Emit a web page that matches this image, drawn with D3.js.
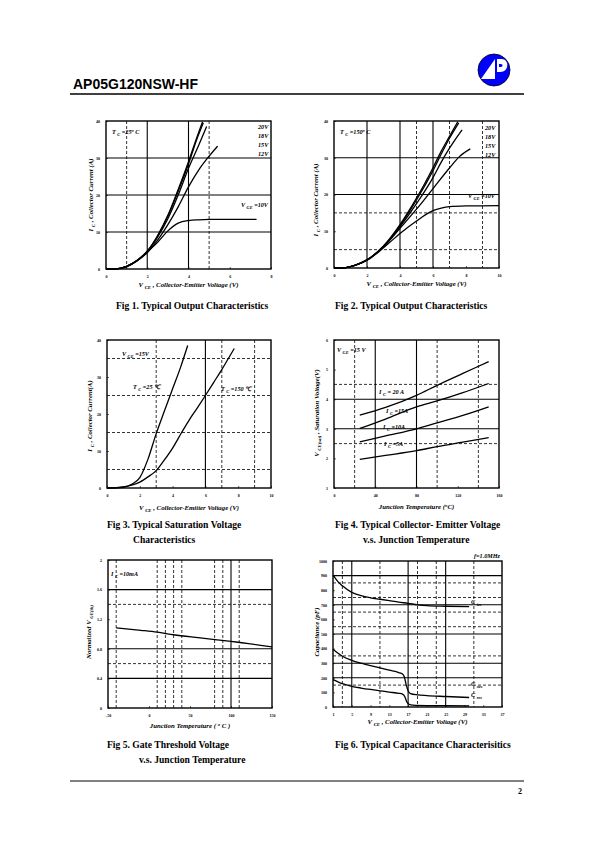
<!DOCTYPE html>
<html><head><meta charset="utf-8">
<script src="https://cdn.jsdelivr.net/npm/d3@7"></script>
<style>body{margin:0;background:#fff}svg{display:block}</style>
</head><body>
<script>
// ---------------- DATA ----------------
// Fig 1: Tc=25C output characteristics [Vce (V), Ic (A)]
const fig1XTicks = [0, 2, 4, 6, 8];
const fig1YTicks = [0, 10, 20, 30, 40];
const fig1_20V = [[0,0],[0.5,0.05],[1,0.7],[1.5,2.3],[2,4.8],[2.5,9],[3,14.5],[3.5,21.5],[4,29],[4.4,35.5],[4.68,39.8]];
const fig1_18V = [[0,0],[0.5,0.05],[1,0.7],[1.5,2.3],[2,4.8],[2.5,8.9],[3,14.3],[3.5,21],[4,28.4],[4.4,35],[4.72,39.5]];
const fig1_15V = [[0,0],[0.5,0.05],[1,0.7],[1.5,2.3],[2,4.7],[2.5,8.6],[3,13.6],[3.5,20],[4,27.2],[4.5,33.5],[4.88,38.5]];
const fig1_12V = [[0,0],[0.5,0.05],[1,0.7],[1.5,2.2],[2,4.4],[2.5,7.8],[3,12],[3.5,16.8],[4,22.2],[4.5,26.8],[5,30.5],[5.41,33.2]];
const fig1_10V = [[0,0],[0.5,0.05],[1,0.6],[1.5,2.2],[2,4.6],[2.5,7.2],[3,10.3],[3.5,12.4],[4,13.1],[4.5,13.3],[5,13.4],[6,13.4],[7.3,13.4]];

// Fig 2: Tc=150C output characteristics
const fig2XTicks = [0, 2, 4, 6, 8, 10];
const fig2YTicks = [0, 10, 20, 30, 40];
const fig2_20V = [[0,0],[0.5,0.05],[1,0.4],[1.5,1.1],[2,2.2],[3,6],[4,11.8],[5,19],[6,27.3],[6.5,31.8],[7,35.8],[7.5,39.8]];
const fig2_18V = [[0,0],[0.5,0.05],[1,0.4],[1.5,1.1],[2,2.2],[3,5.9],[4,11.5],[5,18.5],[6,26.5],[6.5,31],[7,35.3],[7.56,39.5]];
const fig2_15V = [[0,0],[0.5,0.05],[1,0.4],[1.5,1.1],[2,2.2],[3,5.8],[4,11.2],[5,17.5],[6,24.6],[6.5,28.8],[7,32.6],[7.76,37.6]];
const fig2_12V = [[0,0],[0.5,0.05],[1,0.4],[1.5,1.1],[2,2.2],[3,5.7],[4,10.8],[5,16],[6,21.6],[7,27.2],[7.6,30.3],[8.26,32.4]];
const fig2_10V = [[0,0],[0.5,0.05],[1,0.4],[1.5,1.1],[2,2.1],[3,5.5],[4,9.4],[5,12.8],[6,15.6],[6.5,16.3],[7,16.7],[8,16.9],[10,17]];

// Fig 3: saturation characteristics, Vge=15V
const fig3XTicks = [0, 2, 4, 6, 8, 10];
const fig3YTicks = [0, 10, 20, 30, 40];
const fig3_25C  = [[0,0],[0.5,0.05],[1,0.2],[1.5,1],[2,2.8],[2.5,7.8],[3,14.7],[3.5,20.8],[4,26.8],[4.5,32.8],[4.92,38.5]];
const fig3_150C = [[0,0],[0.5,0.05],[1,0.3],[1.5,0.8],[2,1.6],[2.5,3],[3,4.7],[3.5,7.6],[4,10.8],[4.55,15],[5,18.3],[5.5,21.6],[6,25],[6.5,28.5],[7,32],[7.4,35],[7.76,37.7]];

// Fig 4: Vce(sat) vs Tj [T (C), V]
const fig4XTicks = [0, 40, 80, 120, 160];
const fig4YTicks = [1, 2, 3, 4, 5, 6];
const fig4_20A = [[25,3.46],[50,3.72],[80,4.13],[100,4.47],[125,4.87],[150,5.27]];
const fig4_15A = [[25,3.01],[50,3.33],[80,3.74],[100,3.94],[125,4.22],[150,4.53]];
const fig4_10A = [[25,2.56],[50,2.76],[80,3.0],[100,3.2],[125,3.45],[150,3.74]];
const fig4_5A  = [[25,1.97],[50,2.1],[80,2.26],[100,2.4],[125,2.55],[150,2.7]];

// Fig 5: normalized Vge(th) vs Tj
const fig5XTicks = [-50, 0, 50, 100, 150];
const fig5YTicks = [0, 0.4, 0.8, 1.2, 1.6, 2];
const fig5_vth = [[-40,1.083],[-10,1.05],[10,1.025],[30,0.99],[60,0.95],[100,0.9],[150,0.827]];

// Fig 6: capacitance vs Vce [V, pF]
const fig6XTicks = [1, 5, 9, 13, 17, 21, 25, 29, 33, 37];
const fig6YTicks = [0,100,200,300,400,500,600,700,800,900,1000];
const fig6_Cies = [[1,905],[2,860],[3,830],[5,785],[7,762],[9,748],[11,738],[13,728],[15,718],[17,710],[19,700],[21,694],[25,690],[30,687]];
const fig6_Coes = [[1,396],[2,370],[3,348],[5,320],[7,300],[9,283],[11,268],[13,252],[15,236],[15.8,226],[16.2,205],[16.6,150],[17,112],[17.5,92],[19,83],[21,78],[25,72],[30,65]];
const fig6_Cres = [[1,188],[3,160],[5,142],[7,130],[9,120],[11,111],[13,102],[15,94],[15.8,88],[16.3,70],[16.7,36],[17.2,19],[18,13],[21,10],[25,9],[30,8]];

// ---------------- DRAW ----------------
const W = 595, H = 842;
const svg = d3.select("body").append("svg").attr("width", W).attr("height", H);
const SERIF = "'Liberation Serif','Times New Roman',serif";

// text helper: parts = [[str, sub?], ...]
function rich(g, x, y, parts, o = {}) {
  const size = o.size || 6;
  const t = g.append("text").attr("x", x).attr("y", y)
    .attr("font-family", o.family || SERIF)
    .attr("font-size", size)
    .attr("font-weight", o.weight || "bold")
    .attr("font-style", o.style || "italic")
    .attr("text-anchor", o.anchor || "start")
    .attr("fill", "#000");
  if (o.rotate) t.attr("transform", `rotate(${o.rotate},${x},${y})`);
  let shift = 0;
  parts.forEach(p => {
    const s = typeof p === "string" ? [p, 0] : [p[0], p[1] === true ? 1 : (p[1] || 0)];
    const ts = t.append("tspan").text(s[0]);
    const target = s[1] === 1 ? size * 0.3 : s[1] === -1 ? -size * 0.35 : 0;
    if (target !== shift) { ts.attr("dy", target - shift); shift = target; }
    if (s[1] !== 0) ts.attr("font-size", size * 0.7);
  });
  return t;
}

function chart(o) {
  const g = svg.append("g");
  const x = d3.scaleLinear().domain(o.xDomain).range([o.left, o.right]);
  const y = d3.scaleLinear().domain(o.yDomain).range([o.bottom, o.top]);
  const vline = (v, dash) => g.append("line").attr("x1", x(v)).attr("x2", x(v)).attr("y1", o.top).attr("y2", o.bottom)
    .attr("stroke", "#000").attr("stroke-width", dash ? 0.8 : 1.1).attr("stroke-dasharray", dash ? "3,2" : null);
  const hline = (v, dash) => g.append("line").attr("y1", y(v)).attr("y2", y(v)).attr("x1", o.left).attr("x2", o.right)
    .attr("stroke", "#000").attr("stroke-width", dash ? 0.8 : 1.1).attr("stroke-dasharray", dash ? "3,2" : null);
  (o.vDashed || []).forEach(v => vline(v, true));
  (o.hDashed || []).forEach(v => hline(v, true));
  (o.vSolid || []).forEach(v => vline(v, false));
  (o.hSolid || []).forEach(v => hline(v, false));

  const styleAxis = sel => {
    sel.select(".domain").remove();
    sel.selectAll("line").attr("stroke", "#000").attr("stroke-width", 0.6);
    sel.selectAll("text").attr("font-family", SERIF).attr("font-size", 4).attr("font-weight", "bold").attr("fill", "#000");
  };
  g.append("g").attr("transform", `translate(0,${o.bottom})`)
    .call(d3.axisBottom(x).tickValues(o.xTicks).tickSize(-2).tickPadding(6).tickFormat(d => String(d)))
    .call(styleAxis);
  g.append("g").attr("transform", `translate(${o.left},0)`)
    .call(d3.axisLeft(y).tickValues(o.yTicks).tickSize(-2).tickPadding(6).tickFormat(d => String(d)))
    .call(styleAxis);

  const line = d3.line().x(d => x(d[0])).y(d => y(d[1])).curve(d3.curveMonotoneX);
  o.series.forEach(s => g.append("path").attr("d", line(s)).attr("fill", "none")
    .attr("stroke", "#000").attr("stroke-width", 1.3).attr("stroke-linejoin", "round"));

  g.append("rect").attr("x", o.left).attr("y", o.top).attr("width", o.right - o.left).attr("height", o.bottom - o.top)
    .attr("fill", "none").attr("stroke", "#000").attr("stroke-width", 1.4);

  rich(g, (o.left + o.right) / 2, o.xTitleY, o.xTitle, { size: 6.8, anchor: "middle" });
  rich(g, o.yTitleX, o.yTitleY, o.yTitle, { size: 6.8, anchor: "middle", rotate: -90 });
  (o.labels || []).forEach(l => rich(g, l.x, l.y, l.t, { size: l.size || 6.2, anchor: l.anchor || "start" }));
  (o.caption || []).forEach(c => g.append("text").attr("x", c.x).attr("y", c.y).text(c.t)
    .attr("font-family", SERIF).attr("font-size", 9.6).attr("font-weight", "bold").attr("fill", "#000"));
}

// header
svg.append("text").attr("x", 73).attr("y", 89).text("AP05G120NSW-HF")
  .attr("font-family", "'Liberation Sans',Arial,sans-serif").attr("font-size", 14).attr("font-weight", "bold");
svg.append("line").attr("x1", 70).attr("x2", 524).attr("y1", 94).attr("y2", 94).attr("stroke", "#000").attr("stroke-width", 1.6);
// logo
const logo = svg.append("g").attr("transform", "translate(494,70)");
logo.append("circle").attr("r", 16).attr("fill", "#0000ff").attr("stroke", "#000").attr("stroke-width", 0.8);
logo.append("path").attr("d", "M-13,9 L1,-11 L1,9 Z").attr("fill", "#fff");
logo.append("path").attr("d", "M3,-11 L7,-11 C13,-11 14,-6 13,-3 C12,1 9,2 5,2 L3,2 Z").attr("fill", "#fff");
logo.append("path").attr("d", "M5,-6 L7,-6 C9,-6 9,-3 7,-3 L5,-3 Z").attr("fill", "#0000ff");

// footer
svg.append("line").attr("x1", 70).attr("x2", 524).attr("y1", 781).attr("y2", 781).attr("stroke", "#000").attr("stroke-width", 1);
svg.append("text").attr("x", 518).attr("y", 794).text("2").attr("font-family", SERIF).attr("font-size", 8).attr("font-weight", "bold");

const VCE = [["V "], ["CE", true], [" , Collector-Emitter Voltage (V)"]];

chart({
  left: 106, right: 271, top: 121, bottom: 269, xDomain: [0, 8], yDomain: [0, 40],
  xTicks: fig1XTicks, yTicks: fig1YTicks,
  vSolid: [2, 4], vDashed: [1, 5], hSolid: [10, 20, 30], hDashed: [],
  series: [fig1_20V, fig1_18V, fig1_15V, fig1_12V, fig1_10V],
  xTitle: VCE, xTitleY: 287, yTitle: [["I "], ["C", true], [" , Collector Current (A)"]], yTitleX: 93, yTitleY: 195,
  labels: [
    { x: 112, y: 134, t: [["T "], ["C", true], [" =25"], ["o", -1], [" C"]] },
    { x: 258, y: 129, t: ["20V"] }, { x: 258, y: 138, t: ["18V"] },
    { x: 258, y: 147, t: ["15V"] }, { x: 258, y: 156, t: ["12V"] },
    { x: 241, y: 207, t: [["V "], ["GE", true], [" =10V"]] }
  ],
  caption: [{ x: 116, y: 309, t: "Fig 1. Typical Output Characteristics" }]
});

chart({
  left: 334, right: 499, top: 121, bottom: 268, xDomain: [0, 10], yDomain: [0, 40],
  xTicks: fig2XTicks, yTicks: fig2YTicks,
  vSolid: [2, 4, 6], vDashed: [5, 7, 9], hSolid: [20, 30], hDashed: [5, 15],
  series: [fig2_20V, fig2_18V, fig2_15V, fig2_12V, fig2_10V],
  xTitle: VCE, xTitleY: 286, yTitle: [["I "], ["C", true], [" , Collector Current (A)"]], yTitleX: 318, yTitleY: 200,
  labels: [
    { x: 340, y: 134, t: [["T "], ["C", true], [" =150"], ["o", -1], [" C"]] },
    { x: 485, y: 130, t: ["20V"] }, { x: 485, y: 139, t: ["18V"] },
    { x: 485, y: 148, t: ["15V"] }, { x: 485, y: 157, t: ["12V"] },
    { x: 468, y: 198, t: [["V "], ["GE", true], [" =10V"]] }
  ],
  caption: [{ x: 335, y: 309, t: "Fig 2. Typical Output Characteristics" }]
});

chart({
  left: 107, right: 271, top: 340, bottom: 488, xDomain: [0, 10], yDomain: [0, 40],
  xTicks: fig3XTicks, yTicks: fig3YTicks,
  vSolid: [6], vDashed: [3, 7, 9], hSolid: [], hDashed: [5, 15, 25, 35],
  series: [fig3_25C, fig3_150C],
  xTitle: VCE, xTitleY: 510, yTitle: [["I "], ["C", true], [" , Collector Current(A)"]], yTitleX: 92, yTitleY: 416,
  labels: [
    { x: 122, y: 356, t: [["V "], ["GE", true], [" =15V"]] },
    { x: 133, y: 389, t: [["T "], ["C", true], [" =25 ℃"]] },
    { x: 221, y: 391, t: [["T "], ["C", true], [" =150 ℃"]] }
  ],
  caption: [{ x: 107, y: 528, t: "Fig 3. Typical Saturation Voltage" }, { x: 133, y: 543, t: "Characteristics" }]
});

chart({
  left: 334, right: 499, top: 340, bottom: 488, xDomain: [0, 160], yDomain: [1, 6],
  xTicks: fig4XTicks, yTicks: fig4YTicks,
  vSolid: [40, 80], vDashed: [20, 100, 140], hSolid: [3, 4], hDashed: [2.5, 4.5],
  series: [fig4_20A, fig4_15A, fig4_10A, fig4_5A],
  xTitle: [["Junction Temperature ("], ["o", -1], ["C)"]], xTitleY: 509,
  yTitle: [["V "], ["CE(sat)", true], [" , Saturation Voltage(V)"]], yTitleX: 319, yTitleY: 413,
  labels: [
    { x: 337, y: 352, t: [["V "], ["GE", true], [" =15 V"]] },
    { x: 379, y: 394, t: [["I "], ["C", true], [" = 20 A"]] },
    { x: 386, y: 413, t: [["I "], ["C", true], [" =15A"]] },
    { x: 383, y: 429, t: [["I "], ["C", true], [" =10A"]] },
    { x: 384, y: 446, t: [["I "], ["C", true], [" =5A"]] }
  ],
  caption: [{ x: 335, y: 528, t: "Fig 4. Typical Collector- Emitter Voltage" }, { x: 363, y: 543, t: "v.s. Junction Temperature" }]
});

chart({
  left: 108, right: 272, top: 560, bottom: 708, xDomain: [-50, 150], yDomain: [0, 2],
  xTicks: fig5XTicks, yTicks: fig5YTicks,
  vSolid: [100], vDashed: [-40, 10, 20, 30, 40, 80, 90, 110], hSolid: [0.4, 0.8, 1.6], hDashed: [0.6, 1.4],
  series: [fig5_vth],
  xTitle: [["Junction Temperature ( "], ["o", -1], [" C )"]], xTitleY: 728,
  yTitle: [["Normalized V "], ["GE(th)", true]], yTitleX: 91, yTitleY: 632,
  labels: [{ x: 111, y: 576, t: [["I "], ["C", true], [" =10mA"]] }],
  caption: [{ x: 107, y: 748, t: "Fig 5. Gate Threshold Voltage" }, { x: 139, y: 763, t: "v.s. Junction Temperature" }]
});

chart({
  left: 333, right: 502, top: 561, bottom: 707, xDomain: [1, 37], yDomain: [0, 1000],
  xTicks: fig6XTicks, yTicks: fig6YTicks,
  vSolid: [5, 17, 25], vDashed: [3, 11, 19, 23, 31],
  hSolid: [200, 300, 500, 700, 900], hDashed: [150, 350, 550, 650, 750, 850],
  series: [fig6_Cies, fig6_Coes, fig6_Cres],
  xTitle: VCE, xTitleY: 724,
  yTitle: ["Capacitance (pF)"], yTitleX: 319, yTitleY: 632,
  labels: [
    { x: 500, y: 558, t: ["f=1.0MHz"], anchor: "end" },
    { x: 471, y: 604, t: [["C "], ["ies", true]] },
    { x: 471, y: 686, t: [["C "], ["oes", true]] },
    { x: 471, y: 697, t: [["C "], ["res", true]] }
  ],
  caption: [{ x: 335, y: 748, t: "Fig 6. Typical Capacitance Characterisitics" }]
});
</script>
</body></html>
